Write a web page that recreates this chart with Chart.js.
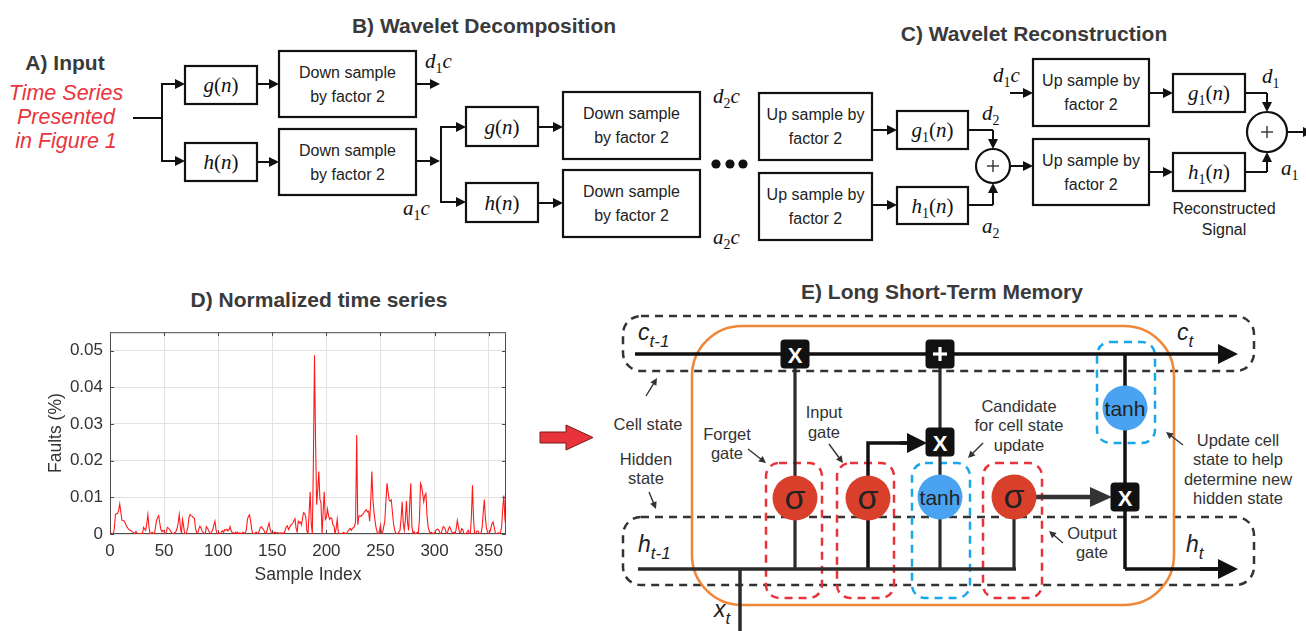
<!DOCTYPE html>
<html><head><meta charset="utf-8">
<script src="https://cdn.jsdelivr.net/npm/chart.js@4.4.0/dist/chart.umd.min.js"></script>
<style>
html,body{margin:0;padding:0;background:#fff;width:1306px;height:631px;overflow:hidden;}
#diag{position:absolute;left:0;top:0;}
#wrap{position:absolute;left:40px;top:315px;width:475px;height:280px;}
</style></head><body>
<svg id="diag" width="1306" height="631" xmlns="http://www.w3.org/2000/svg"></svg>
<div id="wrap"><canvas id="c"></canvas></div>
<script>
// ---------------- DATA (panel D) ----------------
const faults = [
0.0005,0.0003,0,0,0.0015,0.0053,0.0055,0.0056,0.0065,0.0082,
0.006,0.0037,0.0036,0.0036,0.003,0.0024,0.0018,0.0014,0.0011,0.001,
0.0007,0.0005,0.0003,0.0001,0.0007,0.0003,0,0,0,0.0002,
0,0.0018,0.0014,0.001,0.0028,0.0053,0.002,0,0.0002,0.0005,
0.0002,0,0.0018,0.0037,0.0045,0.005,0.003,0.0012,0.0006,0.001,
0.0008,0,0.0005,0.0018,0.0016,0.0013,0.0008,0.0003,0,0.0002,
0.0004,0.0007,0.0015,0.003,0.0053,0.002,0,0.004,0.0022,0.0001,
0,0.0007,0.002,0.0045,0.0053,0.005,0.0048,0.0045,0.0043,0.0015,
0.0005,0,0.0012,0.0021,0.0018,0.0008,0.0005,0.0002,0,0.002,
0.0016,0.001,0.0004,0,0.0006,0.0012,0.0025,0.0035,0.0012,0,
0,0.0003,0,0.0006,0.0009,0.0004,0.0012,0.001,0.0013,0.0008,
0.0012,0.002,0.0008,0.0003,0.0004,0,0.0005,0.0002,0.0005,0,
0.0003,0,0.0002,0.0005,0.0003,0.0001,0.0012,0.004,0.0048,0.0052,
0.0035,0.0012,0,0,0.0002,0.0005,0.0003,0.0002,0.0008,0.0018,
0.002,0.0015,0.0012,0.0004,0,0.0008,0.002,0.003,0.0013,0.0004,
0,0.0003,0.0005,0.0004,0.0003,0.0004,0.0003,0.0002,0.0003,0.0002,
0.0003,0.0002,0.0011,0.002,0.0022,0.0012,0.0018,0.0024,0.0026,0.003,
0.0037,0.0042,0.0015,0.0005,0.0035,0.003,0.0033,0.0025,0.0045,0.0058,
0.0055,0.0045,0.0008,0,0.0055,0.0115,0.003,0,0.02,0.0487,
0.025,0.008,0.012,0.017,0.0095,0.0085,0,0.006,0.0115,0.004,
0.0045,0.0068,0.005,0.004,0.0044,0.0042,0.0025,0.0022,0,0.0015,
0.004,0.0005,0,0,0,0.0002,0.0005,0.0002,0,0.0003,
0.0008,0.0012,0.0015,0.001,0.0015,0.0018,0.002,0.0035,0.027,0.0025,
0.0048,0.005,0.0048,0.0052,0.0055,0.006,0.0063,0.0066,0.006,0.0062,
0.0035,0.009,0.017,0.0094,0.006,0.0035,0.0015,0.0005,0,0.0008,
0.0024,0,0.0005,0.002,0.0035,0.009,0.0138,0.0115,0.0092,0.009,
0.0093,0.006,0.003,0.0012,0.0003,0,0.0002,0.0005,0.001,0.004,
0.0088,0.003,0.001,0.004,0.009,0.003,0.001,0.008,0.0138,0.002,
0.0003,0.0006,0,0.0002,0.0005,0.0003,0.004,0.0138,0.013,0.011,
0.0088,0.0105,0.011,0.005,0.002,0.0008,0.0003,0.0005,0.0002,0,
0.0003,0.001,0.0012,0.0013,0.001,0.0002,0,0.0012,0.002,0.0018,
0.0012,0,0.0005,0.0015,0.002,0.0012,0.0005,0.0002,0.0005,0,
0.0015,0.0037,0.002,0.0005,0.0003,0.0015,0.0012,0.0002,0,0,
0.0005,0.001,0.0002,0,0.0045,0.0133,0.004,0,0.0002,0.0008,
0.0008,0.0003,0,0.0003,0.002,0.006,0.0094,0.004,0.0015,0.0005,
0,0.0005,0.0015,0.0028,0.0033,0.002,0.0005,0,0.0002,0.0003,
0.0001,0.0005,0.002,0.007,0.0105,0.004,0.002
];
const sampleIndex = faults.map((_, i) => i);
const xTicks = [0, 50, 100, 150, 200, 250, 300, 350];
const yTicks = [0, 0.01, 0.02, 0.03, 0.04, 0.05];
const yTickLabels = ['0', '0.01', '0.02', '0.03', '0.04', '0.05'];
const xMax = 366, yMax = 0.055;

// ---------------- DIAGRAMS (SVG) ----------------
const S = document.getElementById('diag');
const NS = 'http://www.w3.org/2000/svg';
const SANS = "'Liberation Sans', Arial, sans-serif";
const SERIF = "'Liberation Serif', 'DejaVu Serif', serif";
function el(tag, attrs, html) {
  const e = document.createElementNS(NS, tag);
  for (const k in attrs) e.setAttribute(k, attrs[k]);
  if (html !== undefined) e.innerHTML = html;
  S.appendChild(e); return e;
}
function line(x1,y1,x2,y2,w=2,c='#111',extra={}) {
  return el('line', Object.assign({x1,y1,x2,y2,stroke:c,'stroke-width':w}, extra));
}
function pl(pts,w=2,c='#111') {
  return el('polyline',{points:pts.map(p=>p.join(',')).join(' '),fill:'none',stroke:c,'stroke-width':w,'stroke-linejoin':'miter'});
}
function arrow(x1,y1,x2,y2,o={}) {
  const w=o.w||2, c=o.c||'#111', hl=o.hl||10, hw=o.hw||5;
  const dx=x2-x1, dy=y2-y1, L=Math.hypot(dx,dy), ux=dx/L, uy=dy/L;
  const bx=x2-ux*hl, by=y2-uy*hl;
  line(x1,y1,bx+ux*2,by+uy*2,w,c);
  el('polygon',{points:`${x2},${y2} ${bx-uy*hw},${by+ux*hw} ${bx+uy*hw},${by-ux*hw}`,fill:c});
}
function parrow(pts,o={}) {
  if (pts.length>2) pl(pts.slice(0,pts.length-1),o.w||2,o.c||'#111');
  const a=pts[pts.length-2], b=pts[pts.length-1];
  arrow(a[0],a[1],b[0],b[1],o);
}
function txt(x,y,s,o={}) {
  return el('text',{x,y,'font-family':o.ff||SANS,'font-size':o.fs||16,'font-weight':o.fw||'normal',
    'font-style':o.it?'italic':'normal',fill:o.c||'#222','text-anchor':o.a||'middle','dominant-baseline':o.db||'central'}, s);
}
function box(x1,y1,x2,y2,lines,fs=16) {
  el('rect',{x:x1,y:y1,width:x2-x1,height:y2-y1,fill:'#fff',stroke:'#111','stroke-width':2.2});
  if (!lines) return;
  const cx=(x1+x2)/2, cy=(y1+y2)/2;
  if (lines.length===2) { txt(cx,cy-12,lines[0],{fs}); txt(cx,cy+12,lines[1],{fs}); }
}
function mbox(x1,y1,x2,y2,html) {
  el('rect',{x:x1,y:y1,width:x2-x1,height:y2-y1,fill:'#fff',stroke:'#111','stroke-width':2.2});
  el('text',{x:(x1+x2)/2,y:(y1+y2)/2+7,'font-family':SERIF,'font-size':21,fill:'#111','text-anchor':'middle'},html);
}
function math(x,y,html,fs=21) {
  el('text',{x,y,'font-family':SERIF,'font-size':fs,fill:'#111','text-anchor':'start'},html);
}
const I = s => `<tspan font-style="italic">${s}</tspan>`;
const SUB = s => `<tspan font-size="14" dy="5">${s}</tspan>`;
const gn = I('g') + '(' + I('n') + ')';
const hn = I('h') + '(' + I('n') + ')';
const g1n = I('g') + SUB('1') + '<tspan dy="-5">(</tspan>' + I('n') + ')';
const h1n = I('h') + SUB('1') + '<tspan dy="-5">(</tspan>' + I('n') + ')';
function sumCircle(cx,cy,r) {
  el('circle',{cx,cy,r,fill:'#fff',stroke:'#111','stroke-width':2.2});
  line(cx-6,cy,cx+6,cy,1.4,'#333'); line(cx,cy-6,cx,cy+6,1.4,'#333');
}

// titles
const TT = {fs:21,fw:'bold',c:'#3a3a3a'};
txt(65,62,'A) Input',TT);
txt(484,25,'B) Wavelet Decomposition',TT);
txt(1034,33,'C) Wavelet Reconstruction',TT);
txt(319,299,'D) Normalized time series',TT);
txt(942,291,'E) Long Short-Term Memory',TT);

// A) input text
const RED = {fs:21.5,it:true,c:'#e8353d',db:'auto'};
txt(66,100,'Time Series',RED);
txt(66,124,'Presented',RED);
txt(66,148,'in Figure 1',RED);

// B) decomposition stage 1
line(133,118,162,118);
line(162,83,162,162);
arrow(161,84,185,84); arrow(161,161,185,161);
mbox(185,66,257,104,gn); mbox(185,143,257,181,hn);
arrow(257,84,279,84); arrow(257,162,279,162);
box(279,51,416,117,['Down sample','by factor 2']);
box(279,129,416,195,['Down sample','by factor 2']);
arrow(416,84,440,84); arrow(416,161,440,161);
math(425,68,I('d')+SUB('1')+'<tspan dy="-5" font-style="italic">c</tspan>');
math(403,215,I('a')+SUB('1')+'<tspan dy="-5" font-style="italic">c</tspan>');
// stage 2
line(441,126,441,203);
arrow(440,127,466,127); arrow(440,202,466,202);
mbox(466,107,538,146,gn); mbox(466,183,538,222,hn);
arrow(538,127,563,127); arrow(538,203,563,203);
box(563,92,700,159,['Down sample','by factor 2']);
box(563,170,700,237,['Down sample','by factor 2']);
math(713,103,I('d')+SUB('2')+'<tspan dy="-5" font-style="italic">c</tspan>');
math(713,244,I('a')+SUB('2')+'<tspan dy="-5" font-style="italic">c</tspan>');
[716,730,743].forEach(x=>el('circle',{cx:x,cy:164,r:4.6,fill:'#111'}));
box(759,93,872,160,['Up sample by','factor 2']);
box(759,173,872,240,['Up sample by','factor 2']);

// C) reconstruction
arrow(872,130,897,130); arrow(872,205,897,205);
mbox(897,111,968,149,g1n); mbox(897,187,968,224,h1n);
math(982,120,I('d')+SUB('2'));
math(982,233,I('a')+SUB('2'));
parrow([[968,130],[993,130],[993,149]]);
parrow([[968,205],[993,205],[993,183]]);
sumCircle(993,166,17);
arrow(1010,166,1033,166);
box(1033,59,1149,126,['Up sample by','factor 2']);
box(1033,139,1149,205,['Up sample by','factor 2']);
math(993,82,I('d')+SUB('1')+'<tspan dy="-5" font-style="italic">c</tspan>');
arrow(1010,93,1033,93);
arrow(1149,93,1173,93); arrow(1149,172,1173,172);
mbox(1173,74,1245,112,g1n); mbox(1173,153,1245,191,h1n);
parrow([[1245,93],[1267,93],[1267,112]]);
parrow([[1245,172],[1267,172],[1267,152]]);
sumCircle(1267,132,20);
arrow(1287,132,1313,132);
math(1262,83,I('d')+SUB('1'));
math(1281,175,I('a')+SUB('1'));
txt(1224,208,'Reconstructed',{fs:16,c:'#222'});
txt(1224,229,'Signal',{fs:16,c:'#222'});

// red arrow
el('polygon',{points:'540,432 566,432 566,425 593,437.5 566,450 566,443 540,443',fill:'#e8333a',stroke:'#7a1a1a','stroke-width':1});

// E) LSTM
const DASH = {fill:'none','stroke-width':2.5,'stroke-dasharray':'8 6'};
el('rect',Object.assign({x:623,y:316,width:631,height:55,rx:18,stroke:'#333'},DASH));
el('rect',Object.assign({x:623,y:517,width:631,height:68,rx:18,stroke:'#333'},DASH));
[[766,822],[837,894],[983,1042]].forEach(([a,b])=>el('rect',Object.assign({x:a,y:463,width:b-a,height:135,rx:13,stroke:'#e8333a'},DASH)));
el('rect',Object.assign({x:912,y:463,width:58,height:135,rx:13,stroke:'#1aa7ea'},DASH));
el('rect',Object.assign({x:1097,y:342,width:58,height:101,rx:13,stroke:'#1aa7ea'},DASH));
el('rect',{x:692,y:326,width:482,height:279,rx:50,fill:'none',stroke:'#f0883a','stroke-width':2.6});

const K='#111', G='#2b2b2b';
arrow(635,354,1238,354,{w:3.5,c:K,hl:20,hw:10});
line(795,354,795,569,3.2,G);
line(940,354,940,569,3.2,G);
line(1014,497,1014,569,3.2,G);
pl([[868,569],[868,443],[910,443]],3.5,K);
arrow(900,443,927,443,{w:3.5,c:K,hl:20,hw:10});
line(638,569,1016,569,3.5,G);
line(740,569,740,631,3.5,G);
arrow(1036,497,1112,497,{w:4.5,c:'#333',hl:22,hw:10});
line(1125,354,1125,569,3.5,K);
pl([[1125,569],[1220,569]],3.5,K);
arrow(1200,569,1238,569,{w:3.5,c:K,hl:20,hw:10});

function circ(cx,cy,col,label,fs) {
  el('circle',{cx,cy,r:22.5,fill:col});
  txt(cx,cy+(label==='tanh'?0:-1),label,{fs,c:'#222'});
}
circ(795,498,'#d9402b','σ',34);
circ(868,498,'#d9402b','σ',34);
circ(1014,497,'#d9402b','σ',34);
circ(940,497,'#4aa3f0','tanh',21);
circ(1125,408,'#4aa3f0','tanh',21);
function opBox(cx,cy,s) {
  el('rect',{x:cx-14.5,y:cy-14.5,width:29,height:29,rx:4,fill:'#111'});
  txt(cx,cy+1,s,{fs:22,fw:'bold',c:'#fff'});
}
opBox(795,354,'X'); opBox(940,442,'X'); opBox(1125,497,'X');
el('rect',{x:925.5,y:339.5,width:29,height:29,rx:4,fill:'#111'});
line(933,354,947,354,3.2,'#fff'); line(940,347,940,361,3.2,'#fff');

// state labels
function stateLabel(x,y,b,s) {
  el('text',{x,y,'font-family':SANS,'font-size':23,'font-style':'italic',fill:'#222'},
    b+`<tspan font-size="17" dy="7">${s}</tspan>`);
}
stateLabel(638,340,'c','t-1');
stateLabel(1177,340,'c','t');
stateLabel(638,552,'h','t-1');
stateLabel(1186,552,'h','t');
stateLabel(714,617,'x','t');

const L = {fs:16.5,c:'#333'};
txt(648,424,'Cell state',L);
txt(646,459,'Hidden',L); txt(646,478,'state',L);
txt(727,434,'Forget',L); txt(727,453,'gate',L);
txt(824,412,'Input',L); txt(824,432,'gate',L);
txt(1019,406,'Candidate',L); txt(1019,425,'for cell state',L); txt(1019,445,'update',L);
txt(1238,440,'Update cell',L); txt(1238,459,'state to help',L); txt(1238,479,'determine new',L); txt(1238,498,'hidden state',L);
txt(1092,533,'Output',L); txt(1092,552,'gate',L);
const SA = {w:1.4,c:'#333',hl:7,hw:3.5};
arrow(646,396,657,378,SA);
arrow(649,492,656,509,SA);
arrow(748,449,766,463,SA);
arrow(829,444,843,463,SA);
arrow(983,443,968,458,SA);
arrow(1183,445,1166,432,SA);
arrow(1063,543,1049,531,SA);

// ---------------- CHART (panel D) ----------------
const frame = {
  id: 'frame',
  beforeDatasetsDraw(chart) {
    const {ctx, chartArea: a, scales: {x, y}} = chart;
    ctx.save();
    ctx.strokeStyle = '#4d4d4d'; ctx.lineWidth = 1;
    ctx.strokeRect(a.left + 0.5, a.top + 0.5, a.right - a.left - 1, a.bottom - a.top - 1);
    ctx.beginPath();
    xTicks.forEach(v => { const px = Math.round(x.getPixelForValue(v)) + 0.5;
      ctx.moveTo(px, a.bottom); ctx.lineTo(px, a.bottom - 4);
      ctx.moveTo(px, a.top); ctx.lineTo(px, a.top + 4); });
    yTicks.forEach(v => { const py = Math.round(y.getPixelForValue(v)) + 0.5;
      ctx.moveTo(a.left, py); ctx.lineTo(a.left + 4, py);
      ctx.moveTo(a.right, py); ctx.lineTo(a.right - 4, py); });
    ctx.stroke();
    ctx.restore();
  }
};
const FONT = "'Liberation Sans', Arial, sans-serif";
new Chart(document.getElementById('c'), {
  type: 'line',
  data: { datasets: [{
    data: faults.map((v, i) => ({x: sampleIndex[i], y: v})),
    borderColor: '#ff1a1a', borderWidth: 1.1, pointRadius: 0, tension: 0, fill: false
  }]},
  options: {
    responsive: true, maintainAspectRatio: false, animation: false,
    layout: { padding: { top: 8, right: 9, left: 0, bottom: 0 } },
    plugins: { legend: { display: false }, tooltip: { enabled: false } },
    scales: {
      x: {
        type: 'linear', min: 0, max: xMax,
        afterBuildTicks: s => { s.ticks = xTicks.map(v => ({value: v})); },
        afterFit: s => { s.height = 61; },
        grid: { color: '#e2e2e2', drawTicks: false, lineWidth: 1 },
        border: { display: false },
        ticks: { padding: 7, color: '#333', font: { family: FONT, size: 17 }, maxRotation: 0, autoSkip: false },
        title: { display: true, text: 'Sample Index', color: '#333', font: { family: FONT, size: 17.5 }, padding: { top: 0, bottom: 9 } }
      },
      y: {
        type: 'linear', min: 0, max: yMax,
        afterBuildTicks: s => { s.ticks = yTicks.map(v => ({value: v})); },
        afterFit: s => { s.width = 70; },
        grid: { color: '#e2e2e2', drawTicks: false, lineWidth: 1 },
        border: { display: false },
        ticks: { padding: 7, color: '#333', font: { family: FONT, size: 17 },
          callback: v => { const k = yTicks.indexOf(v); return k >= 0 ? yTickLabels[k] : ''; } },
        title: { display: true, text: 'Faults (%)', color: '#333', font: { family: FONT, size: 17.5 }, padding: { top: 6, bottom: 0 } }
      }
    }
  },
  plugins: [frame]
});
</script>
</body></html>
